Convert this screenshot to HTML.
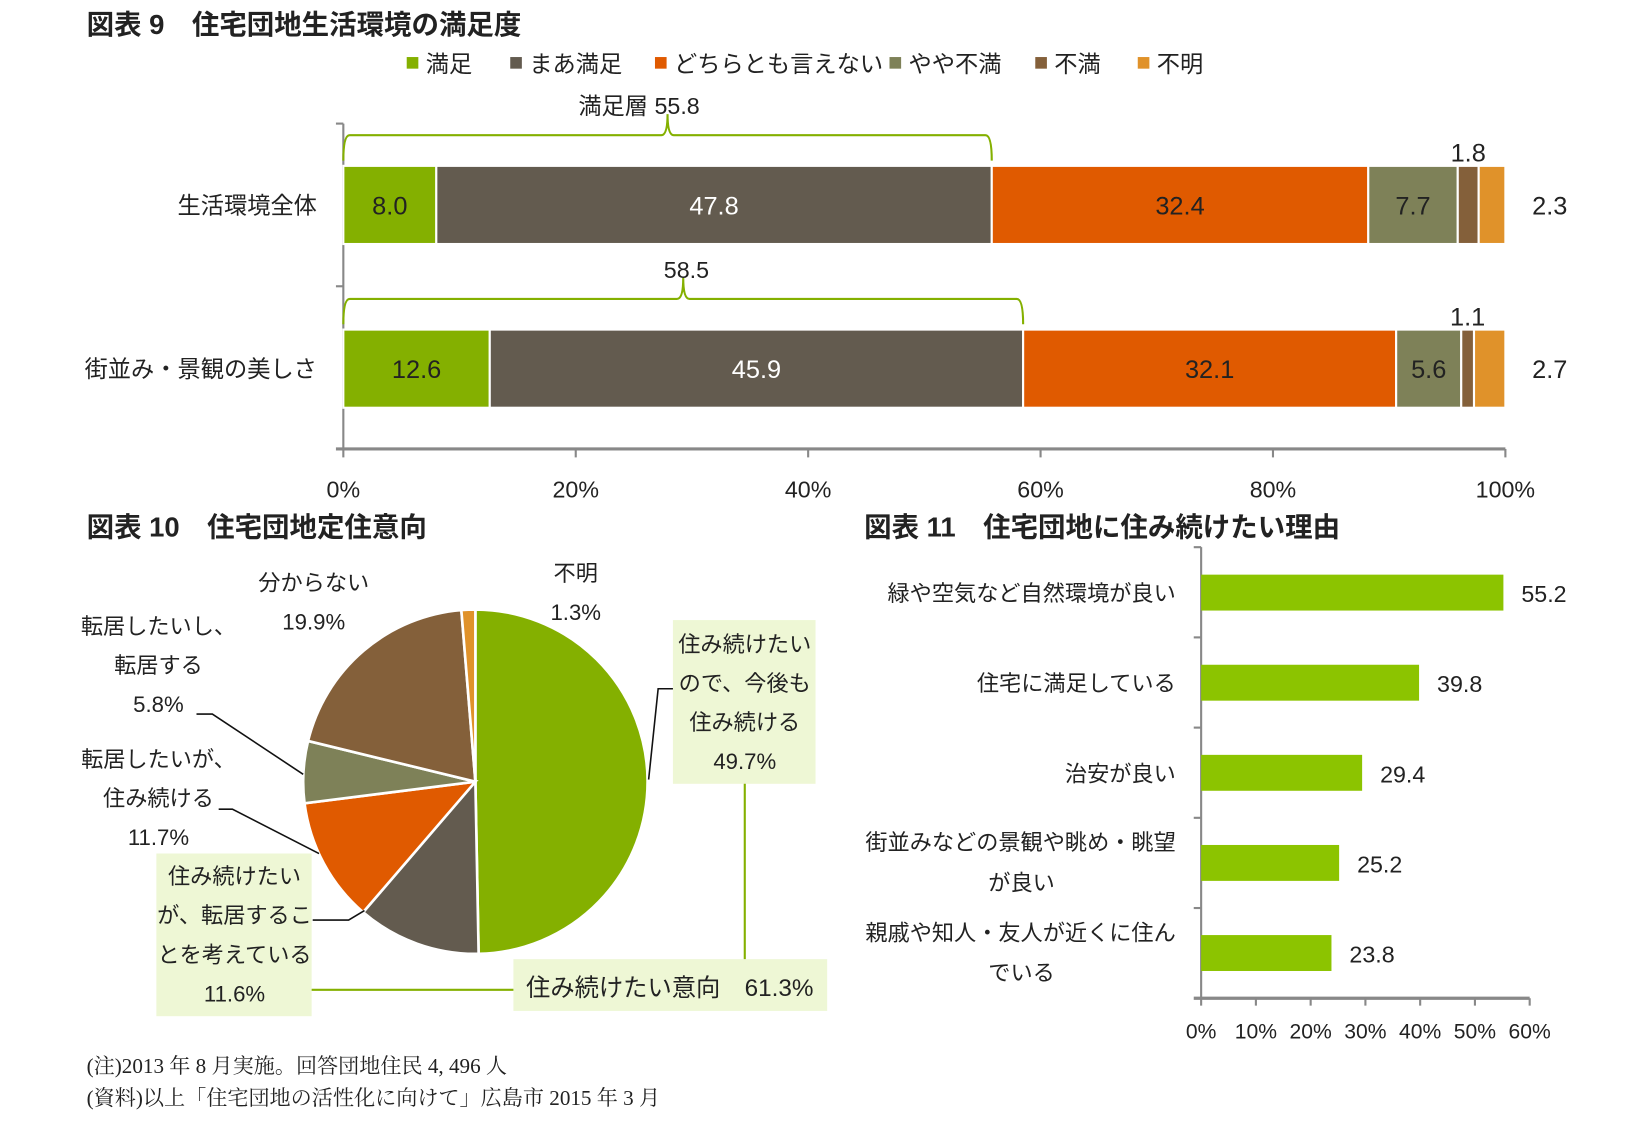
<!DOCTYPE html>
<html><head><meta charset="utf-8"><style>
html,body{margin:0;padding:0;background:#fff}
svg{display:block}
text{font-family:"Liberation Sans","Noto Sans CJK JP",sans-serif;fill:#222}
.t{font-size:26px;font-weight:bold}
.l{font-size:21px}
.s{font-size:22px}
</style></head><body>
<svg id="svg" width="1648" height="1125" viewBox="0 0 1560 1065" preserveAspectRatio="none">
<text class="t" x="82" y="32">図表 9　住宅団地生活環境の満足度</text>
<g id="legend"></g>
<g id="c9"></g>
<text class="t" x="82" y="508">図表 10　住宅団地定住意向</text>
<g id="c10"></g>
<text class="t" x="818" y="508">図表 11　住宅団地に住み続けたい理由</text>
<g id="c11"></g>
<text x="82" y="1016" style="font-family:'Liberation Serif','Noto Serif CJK SC',serif;font-size:20px">(注)2013 年 8 月実施。回答団地住民 4, 496 人</text>
<text x="82" y="1046" style="font-family:'Liberation Serif','Noto Serif CJK SC',serif;font-size:20px">(資料)以上「住宅団地の活性化に向けて」広島市 2015 年 3 月</text>
</svg>
<script>
const seriesNames=["満足","まあ満足","どちらとも言えない","やや不満","不満","不明"];
const seriesColors=["#84b000","#635b4f","#e05a00","#7e8158","#84603a","#e0922a"];
const cats9=["生活環境全体","街並み・景観の美しさ"];
const row1=[8.0,47.8,32.4,7.7,1.8,2.3];
const row2=[12.6,45.9,32.1,5.6,1.1,2.7];
const bracketVals=[55.8,58.5];
const bracketLabels=["満足層 55.8","58.5"];
const ticks9=[0,20,40,60,80,100];
const pieLabels=["住み続けたいので、今後も住み続ける","住み続けたいが、転居することを考えている","転居したいが、住み続ける","転居したいし、転居する","分からない","不明"];
const pieVals=[49.7,11.6,11.7,5.8,19.9,1.3];
const pieColors=["#84b000","#635b4f","#e05a00","#7e8158","#84603a","#e0922a"];
const cats11=["緑や空気など自然環境が良い","住宅に満足している","治安が良い","街並みなどの景観や眺め・眺望|が良い","親戚や知人・友人が近くに住ん|でいる"];
const vals11=[55.2,39.8,29.4,25.2,23.8];
const ticks11=[0,10,20,30,40,50,60];
const NS="http://www.w3.org/2000/svg";
function mk(p,tag,a,txt){const e=document.createElementNS(NS,tag);for(const k in a)e.setAttribute(k,a[k]);if(txt!==undefined)e.textContent=txt;p.appendChild(e);return e;}
// legend
const lg=document.getElementById('legend');
const lx=[385,483,620,842,980,1077];
seriesNames.forEach((n,i)=>{
 const r=mk(lg,'rect',{x:lx[i],y:54,width:11,height:11,fill:seriesColors[i]});
 
 
 const t=mk(lg,'text',{x:lx[i]+18,y:68,class:'s'},n);
 
 
});
// chart 9
const c9=document.getElementById('c9');
const x9=v=>325+v*11;
const rowsY=[157,312], bh=74;
mk(c9,'line',{x1:325,y1:117,x2:325,y2:425,stroke:'#888','stroke-width':2});
mk(c9,'line',{x1:318,y1:117,x2:325,y2:117,stroke:'#888','stroke-width':2});
mk(c9,'line',{x1:318,y1:271,x2:325,y2:271,stroke:'#888','stroke-width':2});
mk(c9,'line',{x1:318,y1:425,x2:1425,y2:425,stroke:'#888','stroke-width':3});
ticks9.forEach(t=>{
 mk(c9,'line',{x1:x9(t),y1:425,x2:x9(t),y2:433,stroke:'#888','stroke-width':2});
 const tx=mk(c9,'text',{x:x9(t),y:471,class:'s','text-anchor':'middle'},t+'%');
 
 
});
[row1,row2].forEach((row,ri)=>{
 const y=rowsY[ri];let acc=0;
 const cl=mk(c9,'text',{x:300,y:y+bh/2+8,class:'s','text-anchor':'end'},cats9[ri]);
 
 
 row.forEach((v,i)=>{
  const r=mk(c9,'rect',{x:x9(acc),y:y,width:v*11,height:bh,fill:seriesColors[i],stroke:'#fff','stroke-width':2});
  
  
  const cx=x9(acc+v/2);
  let lbl;
  if(i<4){lbl=mk(c9,'text',{x:cx,y:y+bh/2+9,'text-anchor':'middle',style:'font-size:24px;fill:'+(i==1?'#fff':'#222')},v.toFixed(1));}
  else if(i==4){lbl=mk(c9,'text',{x:cx,y:y-4,'text-anchor':'middle',style:'font-size:24px'},v.toFixed(1));}
  else{lbl=mk(c9,'text',{x:1467,y:y+bh/2+9,'text-anchor':'middle',style:'font-size:24px'},v.toFixed(1));}
  
  
  acc+=v;
 });
 const bx=x9(bracketVals[ri]), by=y-29, mid=(325+bx)/2;
 const b=mk(c9,'path',{d:`M325,${y-5} Q325,${by} 331,${by} L${mid-6},${by} Q${mid},${by} ${mid},${by-20} Q${mid},${by} ${mid+6},${by} L${bx-6},${by} Q${bx},${by} ${bx},${y-5}`,fill:'none',stroke:'#84b000','stroke-width':2});
 
 
 const bl=mk(c9,'text',{x:ri==0?mid-27:mid+3,y:by-20,class:'s','text-anchor':'middle'},bracketLabels[ri]);
 
 
});
// pie
const c10=document.getElementById('c10');
const pcx=450,pcy=740,R=163;let a0=0;
pieVals.forEach((v,i)=>{
 const a1=a0+v/100*2*Math.PI;
 const p=(a)=>[pcx+R*Math.sin(a),pcy-R*Math.cos(a)];
 const s=p(a0),e=p(a1);
 const sl=mk(c10,'path',{d:`M${pcx},${pcy} L${s[0]},${s[1]} A${R},${R} 0 ${a1-a0>Math.PI?1:0} 1 ${e[0]},${e[1]} Z`,fill:pieColors[i],stroke:'#fff','stroke-width':2.5});
 
 
 a0=a1;
});
function lines(g,xs,ys,arr){arr.forEach((t,i)=>{const e=mk(g,'text',{x:xs,y:ys+i*37,class:'l','text-anchor':'middle'},t);});}
mk(c10,'rect',{x:637,y:587,width:135,height:155,fill:'#eef7d5'});
mk(c10,'rect',{x:148,y:808,width:147,height:154,fill:'#eef7d5'});
mk(c10,'rect',{x:486,y:908,width:297,height:49,fill:'#eef7d5'});
mk(c10,'polyline',{points:'705,742 705,908',fill:'none',stroke:'#84b000','stroke-width':2});
mk(c10,'polyline',{points:'295,937 486,937',fill:'none',stroke:'#84b000','stroke-width':2});
mk(c10,'polyline',{points:'637,652 623,652 614,738',fill:'none',stroke:'#111','stroke-width':1.5});
mk(c10,'polyline',{points:'296,871 330,871 345,862',fill:'none',stroke:'#111','stroke-width':1.5});
mk(c10,'polyline',{points:'186,676 201,676 287,733',fill:'none',stroke:'#111','stroke-width':1.5});
mk(c10,'polyline',{points:'207,766 220,766 302,808',fill:'none',stroke:'#111','stroke-width':1.5});
lines(c10,705,617,["住み続けたい","ので、今後も","住み続ける",pieVals[0]+"%"]);
lines(c10,222,837,["住み続けたい","が、転居するこ","とを考えている",pieVals[1]+"%"]);
lines(c10,150,726,["転居したいが、","住み続ける",pieVals[2]+"%"]);
lines(c10,150,600,["転居したいし、","転居する",pieVals[3]+"%"]);
lines(c10,297,559,["分からない",pieVals[4]+"%"]);
lines(c10,545,550,["不明",pieVals[5]+"%"]);
const iv=mk(c10,'text',{x:634,y:943,'text-anchor':'middle',style:'font-size:23px'},"住み続けたい意向　61.3%");


// chart 11
const c11=document.getElementById('c11');
const x11=v=>1137+v*(311/60);
const topY=518,band=85.4;
mk(c11,'line',{x1:1137,y1:topY,x2:1137,y2:945,stroke:'#888','stroke-width':2});
mk(c11,'line',{x1:1130,y1:945,x2:1448,y2:945,stroke:'#888','stroke-width':3});
for(let i=0;i<5;i++)mk(c11,'line',{x1:1130,y1:topY+i*band,x2:1137,y2:topY+i*band,stroke:'#888','stroke-width':2});
ticks11.forEach(t=>{
 mk(c11,'line',{x1:x11(t),y1:945,x2:x11(t),y2:952,stroke:'#888','stroke-width':2});
 const e=mk(c11,'text',{x:x11(t),y:983,'text-anchor':'middle',style:'font-size:20px'},t+'%');
 
 
});
vals11.forEach((v,i)=>{
 const cyb=561+i*85.3;
 const r=mk(c11,'rect',{x:1137,y:cyb-17,width:x11(v)-1137,height:34,fill:'#8cc400'});
 
 
 const vl=mk(c11,'text',{x:x11(v)+17,y:cyb+9,class:'s'},v.toFixed(1));
 
 
 const parts=cats11[i].split('|');
 if(parts.length==1){const t=mk(c11,'text',{x:1113,y:cyb+8,class:'l','text-anchor':'end'},parts[0]);}
 else{const t=mk(c11,'text',{x:1113,y:cyb-12,class:'l','text-anchor':'end'},parts[0]);
  const t2=mk(c11,'text',{x:967,y:cyb+26,class:'l','text-anchor':'middle'},parts[1]);}
});
</script>
</body></html>
